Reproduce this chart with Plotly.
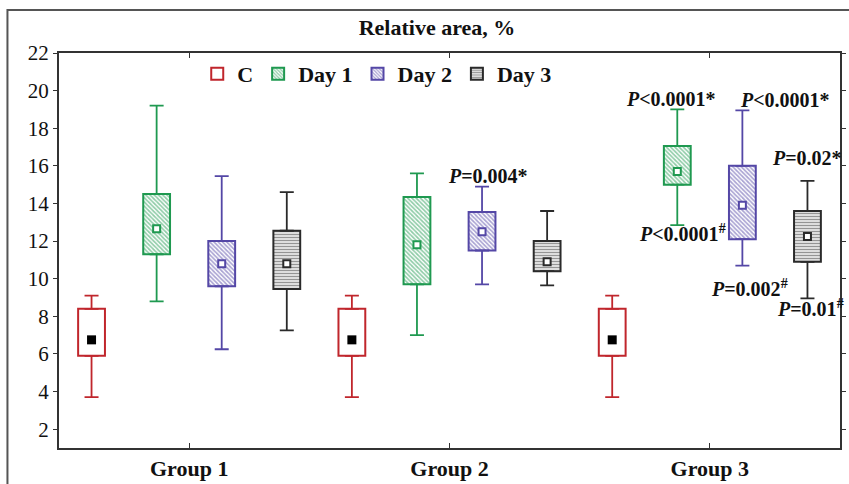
import plotly.graph_objects as go

groups = ["Group 1", "Group 2", "Group 3"]
series = ["C", "Day 1", "Day 2", "Day 3"]

# per series: values for Group 1, Group 2, Group 3
whisker_low = {
    "C": [3.7, 3.7, 3.7],
    "Day 1": [8.8, 7.0, 12.85],
    "Day 2": [6.25, 9.7, 10.7],
    "Day 3": [7.25, 9.65, 8.95],
}
box_low = {
    "C": [5.9, 5.9, 5.9],
    "Day 1": [11.3, 9.7, 15.0],
    "Day 2": [9.6, 11.5, 12.1],
    "Day 3": [9.45, 10.4, 10.9],
}
center = {
    "C": [6.75, 6.75, 6.75],
    "Day 1": [12.65, 11.8, 15.7],
    "Day 2": [10.8, 12.5, 13.9],
    "Day 3": [10.8, 10.9, 12.25],
}
box_high = {
    "C": [8.4, 8.4, 8.4],
    "Day 1": [14.5, 14.35, 17.05],
    "Day 2": [12.0, 13.55, 16.0],
    "Day 3": [12.55, 12.0, 13.6],
}
whisker_high = {
    "C": [9.1, 9.1, 9.1],
    "Day 1": [19.2, 15.6, 19.0],
    "Day 2": [15.45, 14.9, 18.95],
    "Day 3": [14.6, 13.6, 15.2],
}

# significance labels: (series, group index, "top"/"bottom", text)
p_labels = [
    ("Day 2", 1, "top", "<b><i>P</i>=0.004*</b>"),
    ("Day 1", 2, "top", "<b><i>P</i>&lt;0.0001*</b>"),
    ("Day 2", 2, "top", "<b><i>P</i>&lt;0.0001*</b>"),
    ("Day 3", 2, "top", "<b><i>P</i>=0.02*</b>"),
    ("Day 1", 2, "bottom", "<b><i>P</i>&lt;0.0001<sup>#</sup></b>"),
    ("Day 2", 2, "bottom", "<b><i>P</i>=0.002<sup>#</sup></b>"),
    ("Day 3", 2, "bottom", "<b><i>P</i>=0.01<sup>#</sup></b>"),
]

colors = {"C": "#c0262c", "Day 1": "#1f9950", "Day 2": "#5447a6", "Day 3": "#2a2a2a"}
patterns = {"C": "", "Day 1": "\\", "Day 2": "\\", "Day 3": "-"}

FONT = "Liberation Serif"
group_pos = [1, 2, 3]
BOX_W = 0.103
fig = go.Figure()

xs = {}
for k, s in enumerate(series):
    off = (k - 1.5) * 0.25
    x = [g + off for g in group_pos]
    xs[s] = x
    c = colors[s]
    fig.add_trace(go.Bar(
        x=x, base=box_low[s],
        y=[h - l for h, l in zip(box_high[s], box_low[s])],
        width=BOX_W, name="<b>%s</b>" % s,
        marker=dict(color="white", line=dict(color=c, width=2),
                    pattern=dict(shape=patterns[s], fgcolor=c, bgcolor="white",
                                 size=3, solidity=0.55)),
        showlegend=True,
    ))
    fig.add_trace(go.Scatter(
        x=x, y=box_high[s], mode="markers",
        marker=dict(size=1, opacity=0), showlegend=False, hoverinfo="skip",
        error_y=dict(type="data", symmetric=False,
                     array=[w - h for w, h in zip(whisker_high[s], box_high[s])],
                     arrayminus=[0, 0, 0], color=c, thickness=1.8, width=7),
    ))
    fig.add_trace(go.Scatter(
        x=x, y=box_low[s], mode="markers",
        marker=dict(size=1, opacity=0), showlegend=False, hoverinfo="skip",
        error_y=dict(type="data", symmetric=False,
                     array=[0, 0, 0],
                     arrayminus=[l - w for l, w in zip(box_low[s], whisker_low[s])],
                     color=c, thickness=1.8, width=7),
    ))
    if s == "C":
        mk = dict(symbol="square", size=9, color="black", line=dict(width=0))
    else:
        mk = dict(symbol="square", size=7, color="white", line=dict(color=c, width=2))
    fig.add_trace(go.Scatter(x=x, y=center[s], mode="markers", marker=mk,
                             showlegend=False, hoverinfo="skip"))

shift = {
    ("Day 2", 1, "top"): (6, -2),
    ("Day 1", 2, "top"): (-6, -3),
    ("Day 2", 2, "top"): (43, -3),
    ("Day 3", 2, "top"): (0, 10),
    ("Day 1", 2, "bottom"): (5, 6),
    ("Day 2", 2, "bottom"): (7, -8),
    ("Day 3", 2, "bottom"): (3, 4),
}
for s, gi, where, txt in p_labels:
    dx, dy = shift[(s, gi, where)]
    if where == "top":
        y = whisker_high[s][gi]
        ya = "bottom"
    else:
        y = whisker_low[s][gi]
        ya = "top"
    fig.add_annotation(x=xs[s][gi], y=y, xref="x", yref="y", text=txt,
                       showarrow=False, xanchor="center", yanchor=ya,
                       xshift=dx, yshift=dy,
                       font=dict(family=FONT, size=20, color="#111"))

fig.add_shape(type="rect", xref="paper", yref="paper",
              x0=-0.066, y0=-0.3, x1=1.2, y1=1.109,
              line=dict(color="#555", width=2), fillcolor="rgba(0,0,0,0)", layer="below")

fig.update_layout(
    width=849, height=484,
    margin=dict(l=59, r=3, t=53, b=36),
    paper_bgcolor="white", plot_bgcolor="white",
    barmode="overlay",
    title=dict(text="<b>Relative area, %</b>", x=0.484, xref="paper", xanchor="center",
               y=0.944, yanchor="middle", font=dict(family=FONT, size=22, color="#111")),
    legend=dict(orientation="h", x=0.177, y=1.0, xanchor="left", yanchor="top",
                bgcolor="rgba(0,0,0,0)", font=dict(family=FONT, size=22, color="#111"),
                itemwidth=30, traceorder="normal"),
    font=dict(family=FONT, color="#111"),
)
fig.update_xaxes(range=[0.5, 3.5], tickvals=group_pos,
                 ticktext=["<b>%s</b>" % g for g in groups],
                 ticks="inside", ticklen=5, tickcolor="#333", mirror="ticks",
                 showline=True, linecolor="#333", linewidth=2, showgrid=False,
                 zeroline=False, tickfont=dict(family=FONT, size=22, color="#111"))
fig.update_yaxes(range=[1, 22], tick0=0, dtick=2,
                 ticks="outside", ticklen=4, tickcolor="#333", mirror="ticks",
                 showline=True, linecolor="#333", linewidth=2, showgrid=False,
                 zeroline=False, tickfont=dict(family=FONT, size=21, color="#111"))

fig.write_html("out.html")
